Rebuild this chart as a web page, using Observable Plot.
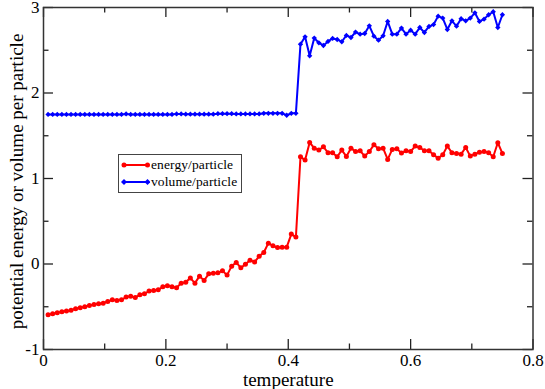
<!DOCTYPE html>
<html>
<head>
<meta charset="utf-8">
<script src="https://cdn.jsdelivr.net/npm/d3@7"></script>
<script src="https://cdn.jsdelivr.net/npm/@observablehq/plot@0.6"></script>
<style>
  body { margin: 0; background: #fff; }
  #chart { position: relative; width: 545px; height: 389px; }
  #chart svg text { font-family: "Liberation Serif", serif; }
  #legend { position: absolute; left: 117.5px; top: 153.5px; width: 124px; height: 39.5px;
            border: 1px solid #444; background: #fff; box-sizing: border-box;
            font-family: "Liberation Serif", serif; font-size: 13.5px; color: #000; }
  #legend .row { position: absolute; left: 0; height: 14px; display: flex; align-items: center; white-space: nowrap; }
  #legend svg { display: block; }
  #legend span { margin-left: 1.5px; line-height: 14px; letter-spacing: 0.1px; }
</style>
</head>
<body>
<div id="chart"></div>
<script>
const temperature = [
  0.0075, 0.015, 0.0225, 0.03, 0.0375, 0.045, 0.0525, 0.06, 0.0675, 0.075,
  0.0825, 0.09, 0.0975, 0.105, 0.1125, 0.12, 0.1275, 0.135, 0.1425, 0.15,
  0.1575, 0.165, 0.1725, 0.18, 0.1875, 0.195, 0.2025, 0.21, 0.2175, 0.225,
  0.2325, 0.24, 0.2475, 0.255, 0.2625, 0.27, 0.2775, 0.285, 0.2925, 0.3,
  0.3075, 0.315, 0.3225, 0.33, 0.3375, 0.345, 0.3525, 0.36, 0.3675, 0.375,
  0.3825, 0.39, 0.3975, 0.405, 0.4125, 0.42, 0.4275, 0.435, 0.4425, 0.45,
  0.4575, 0.465, 0.4725, 0.48, 0.4875, 0.495, 0.5025, 0.51, 0.5175, 0.525,
  0.5325, 0.54, 0.5475, 0.555, 0.5625, 0.57, 0.5775, 0.585, 0.5925, 0.6,
  0.6075, 0.615, 0.6225, 0.63, 0.6375, 0.645, 0.6525, 0.66, 0.6675, 0.675,
  0.6825, 0.69, 0.6975, 0.705, 0.7125, 0.72, 0.7275, 0.735, 0.7425, 0.75
];
const energy = [
  -0.594, -0.582, -0.571, -0.559, -0.551, -0.540, -0.524, -0.512, -0.500, -0.485,
  -0.473, -0.465, -0.458, -0.438, -0.419, -0.426, -0.419, -0.387, -0.376, -0.391,
  -0.360, -0.348, -0.317, -0.309, -0.302, -0.267, -0.255, -0.267, -0.278, -0.224,
  -0.212, -0.165, -0.224, -0.142, -0.193, -0.115, -0.107, -0.103, -0.080, -0.130,
  -0.025, 0.018, -0.045, -0.002, 0.045, 0.022, 0.092, 0.135, 0.244, 0.213,
  0.193, 0.197, 0.197, 0.350, 0.315, 1.254, 1.215, 1.421, 1.355, 1.332,
  1.371, 1.301, 1.301, 1.254, 1.332, 1.258, 1.355, 1.316, 1.324, 1.262,
  1.316, 1.394, 1.347, 1.355, 1.223, 1.340, 1.347, 1.297, 1.324, 1.316,
  1.379, 1.363, 1.324, 1.324, 1.277, 1.238, 1.277, 1.379, 1.301, 1.293,
  1.285, 1.363, 1.262, 1.285, 1.308, 1.316, 1.301, 1.254, 1.418, 1.293
];
const volume = [
  1.750, 1.750, 1.750, 1.750, 1.750, 1.750, 1.750, 1.750, 1.750, 1.750,
  1.750, 1.750, 1.750, 1.750, 1.750, 1.750, 1.750, 1.755, 1.750, 1.750,
  1.750, 1.750, 1.750, 1.750, 1.750, 1.750, 1.750, 1.750, 1.755, 1.755,
  1.752, 1.752, 1.752, 1.752, 1.752, 1.752, 1.752, 1.758, 1.758, 1.758,
  1.758, 1.755, 1.755, 1.755, 1.755, 1.755, 1.755, 1.762, 1.762, 1.762,
  1.762, 1.762, 1.740, 1.762, 1.762, 2.571, 2.657, 2.435, 2.642, 2.587,
  2.556, 2.603, 2.638, 2.626, 2.599, 2.673, 2.649, 2.712, 2.688, 2.696,
  2.786, 2.665, 2.618, 2.669, 2.837, 2.688, 2.688, 2.759, 2.688, 2.735,
  2.688, 2.766, 2.708, 2.778, 2.800, 2.899, 2.876, 2.743, 2.844, 2.782,
  2.868, 2.844, 2.876, 2.938, 2.837, 2.864, 2.915, 2.950, 2.766, 2.915
];
const seriesNames = ["energy/particle", "volume/particle"];
const seriesColors = ["#ff0000", "#0000ff"];
const xTicksMajor = [0, 0.2, 0.4, 0.6, 0.8];
const xTicksMinor = [0.1, 0.3, 0.5, 0.7];
const yTicksMajor = [-1, 0, 1, 2, 3];
const yTicksMinor = [-0.5, 0.5, 1.5, 2.5];
const xTitle = "temperature";
const yTitle = "potential energy or volume per particle";

const W = 545, H = 389, mL = 43, mR = 12.5, mT = 7, mB = 40;
const pw = W - mL - mR, ph = H - mT - mB;
const majorLen = 10, minorLen = 5.5;
const tickColor = "#222";
const serif = "'Liberation Serif', serif";

const eData = temperature.map((t, i) => ({t, v: energy[i]}));
const vData = temperature.map((t, i) => ({t, v: volume[i]}));

const tickMarks = [];
for (const [ticks, len] of [[xTicksMajor, majorLen], [xTicksMinor, minorLen]]) {
  tickMarks.push(Plot.ruleX(ticks, {x: d => d, insetTop: ph - len, stroke: tickColor, strokeWidth: 1.3}));
  tickMarks.push(Plot.ruleX(ticks, {x: d => d, insetBottom: ph - len, stroke: tickColor, strokeWidth: 1.3}));
}
for (const [ticks, len] of [[yTicksMajor, majorLen], [yTicksMinor, minorLen]]) {
  tickMarks.push(Plot.ruleY(ticks, {y: d => d, insetRight: pw - len, stroke: tickColor, strokeWidth: 1.3}));
  tickMarks.push(Plot.ruleY(ticks, {y: d => d, insetLeft: pw - len, stroke: tickColor, strokeWidth: 1.3}));
}

const svg = Plot.plot({
  width: W, height: H,
  marginLeft: mL, marginRight: mR, marginTop: mT, marginBottom: mB,
  style: {fontFamily: serif, fontSize: "17px", background: "#fff", color: "#000", overflow: "visible"},
  x: {domain: [0, 0.8]},
  y: {domain: [-1, 3]},
  marks: [
    Plot.line(eData, {x: "t", y: "v", stroke: seriesColors[0], strokeWidth: 2}),
    Plot.dot(eData, {x: "t", y: "v", r: 2.5, fill: seriesColors[0]}),
    Plot.line(vData, {x: "t", y: "v", stroke: seriesColors[1], strokeWidth: 2}),
    Plot.dot(vData, {x: "t", y: "v", r: 2.4, symbol: "diamond2", fill: seriesColors[1]}),
    ...tickMarks,
    Plot.frame({stroke: "#333", strokeWidth: 1.5}),
    Plot.axisX(xTicksMajor, {tickSize: 0, tickPadding: 4, label: null, tickFormat: d => String(d), fontSize: 17, fontFamily: serif}),
    Plot.axisY(yTicksMajor, {tickSize: 0, tickPadding: 4, label: null, tickFormat: d => String(d), fontSize: 17, fontFamily: serif}),
    Plot.text([xTitle], {frameAnchor: "bottom", lineAnchor: "middle", dy: 30, fontSize: 19, fontFamily: serif}),
    Plot.text([yTitle], {frameAnchor: "left", textAnchor: "middle", lineAnchor: "middle", rotate: -90, dx: -27, dy: 3, fontSize: 19, fontFamily: serif})
  ]
});

const chart = document.getElementById("chart");
chart.appendChild(svg);

// legend
const legend = document.createElement("div");
legend.id = "legend";
const rowTops = [3, 20.5];
seriesNames.forEach((name, k) => {
  const c = seriesColors[k];
  const row = document.createElement("div");
  row.className = "row";
  row.style.top = rowTops[k] + "px";
  const marker = (x) => k === 0
    ? `<circle cx="${x}" cy="7" r="2.5" fill="${c}"/>`
    : `<path d="M${x},${7 - 3} L${x + 3},7 L${x},${7 + 3} L${x - 3},7Z" fill="${c}"/>`;
  row.innerHTML = `<svg width="31" height="14"><line x1="5" x2="28.5" y1="7" y2="7" stroke="${c}" stroke-width="2"/>${marker(5)}${marker(28.5)}</svg><span>${name}</span>`;
  legend.appendChild(row);
});
chart.appendChild(legend);
</script>
</body>
</html>
